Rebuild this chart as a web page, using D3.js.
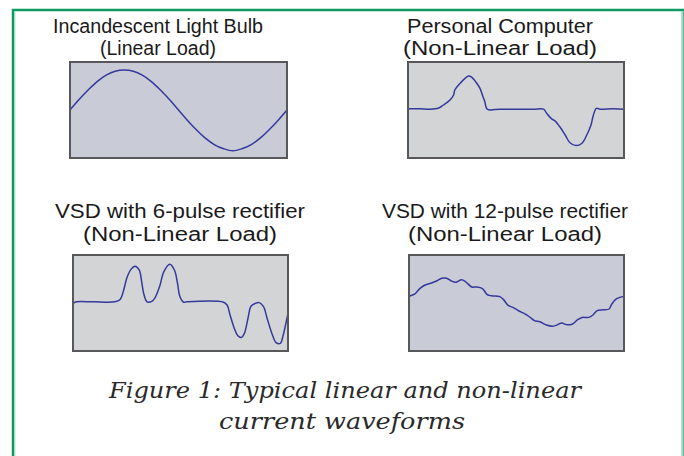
<!DOCTYPE html>
<html><head><meta charset="utf-8">
<script src="https://cdn.jsdelivr.net/npm/d3@7"></script>
<style>html,body{margin:0;padding:0;background:#fff;overflow:hidden}</style>
</head><body>
<svg id="c" width="684" height="456"></svg>
<script>
// ---- data (x in degrees of one AC cycle, y in normalized current) ----
const bulbX = [0,15,30,45,60,75,90,105,120,135,150,165,180,195,210,225,240,255,270,285,300,315,330,345,360];
const bulbY = [0,.26,.5,.71,.87,.97,1,.97,.87,.71,.5,.26,0,-.26,-.5,-.71,-.87,-.97,-1.02,-.97,-.87,-.71,-.5,-.26,0];

const pcX = [0,20,37,51,59,70,76,78,87,95,101,106,114,120,124,128,132,153,181,209,226,231,240,245,253,262,270,280,290,298,305,309,314,320,342,360];
const pcY = [.03,.03,.02,.05,.125,.25,.375,.5,.67,.79,.85,.82,.68,.54,.375,.21,.02,.02,.02,.02,.02,-.08,-.23,-.27,-.42,-.625,-.82,-.89,-.83,-.625,-.375,-.125,.04,.02,.03,.02];

const vsd6X = [0,6,34,70,79,85,90,97,104,111,115,119,124,132,137,145,152,162,170,175,179,185,191,252,258,263,270,276,282,287,293,298,305,312,319,325,333,340,347,352,357,360];
const vsd6Y = [-.01,.03,.03,.03,.09,.33,.62,.84,.92,.82,.53,.2,.03,.04,.12,.41,.78,.97,.82,.49,.16,.02,.03,.02,-.05,-.3,-.63,-.82,-.86,-.76,-.38,-.08,-.01,.01,-.09,-.38,-.76,-.99,-1.01,-.8,-.47,-.26];

const vsd12X = [0,10,18,27,38,46,55,63,71,79,88,95,105,113,123,131,138,152,158,166,174,184,194,202,210,219,230,240,246,256,263,273,283,290,301,308,315,325,335,339,346,353,360];
const vsd12Y = [.17,.23,.36,.45,.5,.55,.62,.62,.55,.52,.58,.53,.4,.4,.36,.21,.18,.16,.09,-.06,-.11,-.2,-.27,-.35,-.44,-.47,-.55,-.58,-.56,-.5,-.54,-.53,-.41,-.36,-.36,-.3,-.19,-.17,-.15,-.04,.09,.14,.16];

const titles1 = ["Incandescent Light Bulb","Personal Computer","VSD with 6-pulse rectifier","VSD with 12-pulse rectifier"];
const titles2 = ["(Linear Load)","(Non-Linear Load)","(Non-Linear Load)","(Non-Linear Load)"];
const captionLines = ["Figure 1: Typical linear and non-linear","current waveforms"];

// ---- layout ----
const panels = [
  {x:bulbX, y:bulbY, l:70, r:287, t:62, b:158, fill:"#c9ccd6", tx:158, ty1:33, ty2:55, w1:210, w2:116},
  {x:pcX, y:pcY, l:408, r:624, t:62, b:158, fill:"#d3d4d6", tx:500, ty1:33, ty2:55, w1:186, w2:194},
  {x:vsd6X, y:vsd6Y, l:73, r:288, t:255, b:351, fill:"#d3d4d6", tx:180, ty1:218, ty2:241, w1:250, w2:194},
  {x:vsd12X, y:vsd12Y, l:409, r:624, t:255, b:351, fill:"#c9ccd6", tx:505, ty1:218, ty2:241, w1:246, w2:194}
];

const svg = d3.select("#c");

// green frame
svg.append("rect").attr("x",13).attr("y",10).attr("width",670).attr("height",470)
  .attr("fill","none").attr("stroke","#0f9a63").attr("stroke-width",2.5);
svg.append("line").attr("x1",14.8).attr("x2",14.8).attr("y1",11).attr("y2",456)
  .attr("stroke","#8fd6bd").attr("stroke-width",1);
svg.append("line").attr("x1",682.5).attr("x2",682.5).attr("y1",11).attr("y2",456)
  .attr("stroke","#9fdac6").attr("stroke-width",2);

const titleFont = "'Liberation Sans', Arial, sans-serif";
const titleSize = 19.5;

panels.forEach((p,i)=>{
  const g = svg.append("g");
  const xs = d3.scaleLinear().domain([0,360]).range([p.l,p.r]);
  const ys = d3.scaleLinear().domain([-1.2,1.2]).range([p.b,p.t]);
  g.append("rect").attr("x",p.l).attr("y",p.t).attr("width",p.r-p.l).attr("height",p.b-p.t)
    .attr("fill",p.fill);
  const cid = "clip"+i;
  svg.append("clipPath").attr("id",cid).append("rect")
    .attr("x",p.l).attr("y",p.t).attr("width",p.r-p.l).attr("height",p.b-p.t);
  const pts = p.x.map((v,k)=>[v,p.y[k]]);
  g.append("path").datum(pts).attr("clip-path","url(#"+cid+")")
    .attr("d", d3.line().x(d=>xs(d[0])).y(d=>ys(d[1])).curve(d3.curveCatmullRom.alpha(0.5)))
    .attr("fill","none").attr("stroke","#34399c").attr("stroke-width",1.5);
  g.append("rect").attr("x",p.l).attr("y",p.t).attr("width",p.r-p.l).attr("height",p.b-p.t)
    .attr("fill","none").attr("stroke","#58585a").attr("stroke-width",2);
  svg.append("text").attr("x",p.tx).attr("y",p.ty1).attr("text-anchor","middle")
    .attr("font-family",titleFont).attr("font-size",titleSize).attr("fill","#1a1a1a")
    .attr("textLength",p.w1).attr("lengthAdjust","spacingAndGlyphs")
    .text(titles1[i]);
  svg.append("text").attr("x",p.tx).attr("y",p.ty2).attr("text-anchor","middle")
    .attr("font-family",titleFont).attr("font-size",titleSize).attr("fill","#1a1a1a")
    .attr("textLength",p.w2).attr("lengthAdjust","spacingAndGlyphs")
    .text(titles2[i]);
});

const capY = [398, 429], capX = [345, 342], capW = [472, 246];
captionLines.forEach((s,i)=>{
  svg.append("text").attr("x",capX[i]).attr("y",capY[i]).attr("text-anchor","middle")
    .attr("font-family","'DejaVu Serif', serif").attr("font-style","italic").attr("font-size",22)
    .attr("textLength",capW[i]).attr("lengthAdjust","spacingAndGlyphs")
    .attr("fill","#2a2a2a").text(s);
});
</script>
</body></html>
